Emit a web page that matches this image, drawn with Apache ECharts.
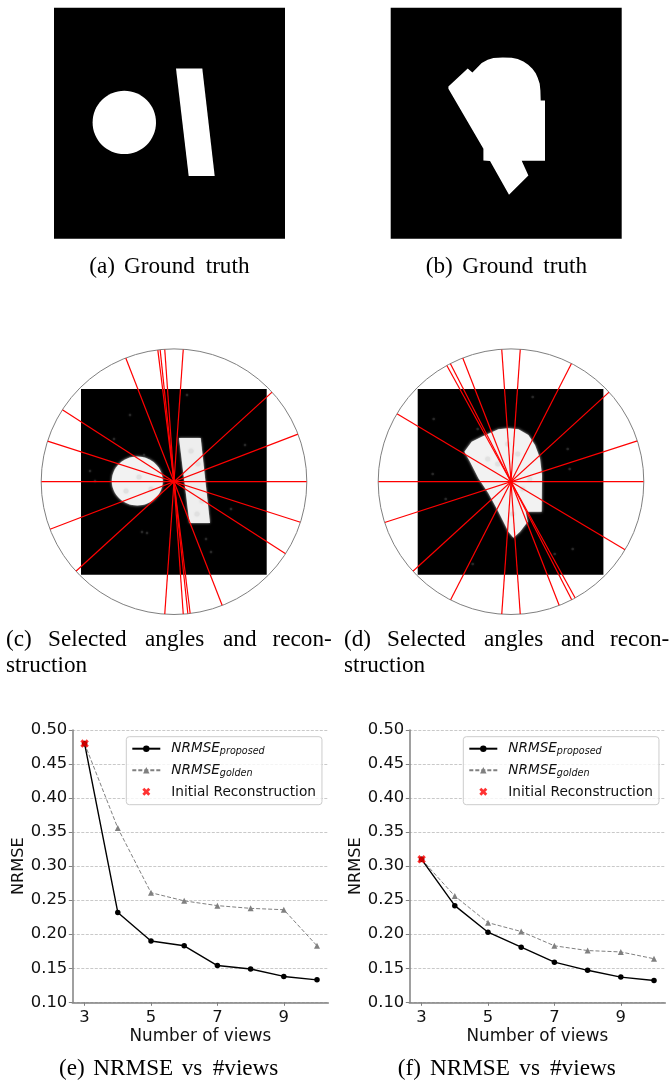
<!DOCTYPE html>
<html><head><meta charset="utf-8">
<style>html,body{margin:0;padding:0;background:#fff}#c{width:669px;height:1082px}</style>
<script src="https://cdn.jsdelivr.net/npm/echarts@6/dist/echarts.min.js"></script>
</head><body><div id="c"></div>
<script>
// Line charts
const views = [3,4,5,6,7,8,9,10];
const proposedE = [0.48,0.232,0.19,0.183,0.154,0.149,0.138,0.133];
const goldenE   = [0.48,0.356,0.261,0.249,0.242,0.238,0.236,0.183];
const proposedF = [0.31,0.242,0.203,0.181,0.159,0.147,0.137,0.132];
const goldenF   = [0.31,0.256,0.217,0.204,0.183,0.176,0.174,0.164];
const initialE = [[3,0.48]];
const initialF = [[3,0.31]];
const xTicks = [3,5,7,9];
// Selected angles (degrees)
const anglesC = [0,21,42.4,86,94,96,97,111.3,147.2,162.2];
const anglesD = [0,17.9,42.4,62.9,86,94,111.3,117.2,118.9,149.2];
const polarLabels = [0,45,90,135,180];
// Ground truth shapes, in image pixels
const truthCircleA = [70.3,114.7,31.7];
const truthBarA = [[122,60.7],[148.3,60.7],[160.7,168.3],[134.7,168.3]];
const truthShapeB = [[57.7,78.7],[77,60.7],[81.7,64.7],[91,55.3],[97,52],[102.7,50.3],[112,49.7],[121,50],[127,51.3],[132.7,53.7],[137.5,57],[141.7,61],[145,65.5],[147,70],[149,76],[149.7,82.7],[150,92.7],[154.3,92.7],[154.3,153],[131,153],[137.7,167.7],[118.3,187],[99.3,153.3],[92.7,152.7],[92.7,141],[57.7,81]];
// Reconstructions, in image pixels
const reconCircleC = [56.3,92,25.5,24.5];
const reconBarC = [[98,49],[119.7,49],[129,134],[108.5,134]];
const reconShapeD = [[46.7,62.7],[54,52.7],[64,47.7],[74,43.3],[80.7,40.3],[90.7,39.3],[100.7,40.3],[110.7,46],[117.3,56],[122.3,69.3],[124.3,86],[124,122.7],[108,122.7],[110,132.7],[102.3,142.7],[95.7,148.7],[90.7,142.7],[80.7,122.7],[70.7,104.3],[60.7,89.3],[52.3,72.7]];
// Faint reconstruction artefacts, in image pixels
const specksC = [[49,26],[63,66],[9,82],[66,144],[61,143],[130,163],[164,56],[106,6],[150,120],[33,50],[125,150],[14,92]];
const mottleC = [[110,62],[117,75],[121,112],[116,125],[58,88],[45,102],[70,100]];
const specksD = [[15,85],[28,110],[16,30],[115,8],[150,60],[152,80],[137,165],[155,160],[55,175],[60,40]];
const mottleD = [[90,55],[80,75],[100,65],[105,100],[70,70],[95,125],[112,90]];

const TICK='#111', SPINE='#808080';
const FONT='"DejaVu Sans"', SERIF='"Liberation Serif"';
const X_SHAPE='path://M-1,-2 L0,-1 L1,-2 L2,-1 L1,0 L2,1 L1,2 L0,1 L-1,2 L-2,1 L-1,0 L-2,-1 Z';

function polyItem(pts,fill,blur){return function(p,api){return {type:'polygon',shape:{points:pts.map(q=>api.coord(q))},
  style:{fill:fill,shadowBlur:blur||0,shadowColor:blur?'#ccc':'transparent'}};};}
function ellipseItem(e,fill,blur){return function(p,api){const c=api.coord([e[0],e[1]]);const s=api.size([1,1]);
  const rx=e[2]*s[0],ry=(e[3]||e[2])*s[1];
  return {type:'ellipse',shape:{cx:c[0],cy:c[1],rx:rx,ry:ry},style:{fill:fill,shadowBlur:blur||0,shadowColor:blur?'#ccc':'transparent'}};};}
function custom(idx,render){return {type:'custom',coordinateSystem:'cartesian2d',xAxisIndex:idx,yAxisIndex:idx,data:[[0,0]],renderItem:render,silent:true,z:1,clip:true};}
function dots(idx,data,color,size){return {type:'scatter',xAxisIndex:idx,yAxisIndex:idx,data:data,symbolSize:size,silent:true,z:2,
  itemStyle:{color:color,shadowBlur:2,shadowColor:color}};}

const imgGrids=[
 {left:54,top:7.7,width:231,height:231,span:231},
 {left:390.7,top:7.7,width:231,height:231,span:231},
 {left:81,top:389,width:185.7,height:185.7,span:185.7},
 {left:417.7,top:389,width:185.7,height:185.7,span:185.7}];
const plotGrids=[
 {left:72.3,top:730,width:256,height:272.3},
 {left:409.3,top:730,width:256,height:272.3}];

const grid=[],xAxis=[],yAxis=[];
imgGrids.forEach(g=>{
  grid.push({left:g.left,top:g.top,width:g.width,height:g.height,show:true,backgroundColor:'#000',borderWidth:0});
  xAxis.push({type:'value',gridIndex:grid.length-1,min:0,max:g.span,show:false});
  yAxis.push({type:'value',gridIndex:grid.length-1,min:0,max:g.span,inverse:true,show:false});
});
plotGrids.forEach(g=>{
  grid.push({left:g.left,top:g.top,width:g.width,height:g.height,show:false});
  const gi=grid.length-1;
  const line={show:true,onZero:false,lineStyle:{color:SPINE,width:1.5}};
  xAxis.push({type:'value',gridIndex:gi,min:2.63,max:10.34,axisLine:line,splitLine:{show:false},
    axisTick:{show:true,length:3.5,customValues:xTicks,lineStyle:{color:SPINE,width:1}},
    axisLabel:{customValues:xTicks,color:TICK,fontFamily:FONT,fontSize:16.4,margin:7,showMinLabel:true,showMaxLabel:true},
    name:'Number of views',nameLocation:'middle',nameGap:26,nameTextStyle:{color:TICK,fontFamily:FONT,fontSize:16.8}});
  yAxis.push({type:'value',gridIndex:gi,min:0.1,max:0.5,interval:0.05,axisLine:line,
    splitLine:{show:true,lineStyle:{color:'#bbb',type:[3,1.5],width:0.8}},
    axisTick:{show:true,length:3.5,lineStyle:{color:SPINE,width:1}},
    axisLabel:{color:TICK,fontFamily:FONT,fontSize:16.4,margin:5,formatter:v=>v.toFixed(2)},
    name:'NRMSE',nameLocation:'middle',nameGap:44,nameTextStyle:{color:TICK,fontFamily:FONT,fontSize:16.2}});
});

const series=[
 custom(0,ellipseItem(truthCircleA,'#fff')),
 custom(0,polyItem(truthBarA,'#fff')),
 custom(1,polyItem(truthShapeB,'#fff')),
 custom(2,ellipseItem(reconCircleC,'#f2f2f2',3)),
 custom(2,polyItem(reconBarC,'#eeeeee',2.5)),
 custom(3,polyItem(reconShapeD,'#f2f2f2',3)),
 dots(2,specksC,'#2e2e2e',2.5),
 dots(2,mottleC,'#dedede',5),
 dots(3,specksD,'#2e2e2e',2.5),
 dots(3,mottleD,'#e0e0e0',5)
];
function addAngles(list,pi){list.forEach(a=>{series.push({type:'line',coordinateSystem:'polar',polarIndex:pi,
  data:[[1,a],[1,a+180]],symbol:'none',silent:true,z:5,lineStyle:{color:'#ff0000',width:1.2},clip:false});});
  series.push({type:'scatter',coordinateSystem:'polar',polarIndex:pi,data:polarLabels.map(v=>[1.143,v]),symbolSize:1,silent:true,z:6,
    itemStyle:{color:'transparent'},label:{show:true,position:'inside',align:'center',verticalAlign:'middle',color:TICK,fontFamily:FONT,fontSize:13,
    formatter:p=>String(p.value[1])}});}
addAngles(anglesC,0);addAngles(anglesD,1);

const N1='NRMSE_proposed',N2='NRMSE_golden',N3='Initial Reconstruction';
function addPlot(i,prop,gold,init){
  const gi=4+i;
  const pairs=a=>views.map((v,k)=>[v,a[k]]);
  series.push({type:'line',name:N2,xAxisIndex:gi,yAxisIndex:gi,data:pairs(gold),symbol:'triangle',symbolSize:6,
    itemStyle:{color:'#808080'},lineStyle:{color:'#808080',width:1,type:[4,2]},z:3,clip:false});
  series.push({type:'line',name:N1,xAxisIndex:gi,yAxisIndex:gi,data:pairs(prop),symbol:'circle',symbolSize:5.5,
    itemStyle:{color:'#000'},lineStyle:{color:'#000',width:1.4},z:4,clip:false});
  series.push({type:'scatter',name:N3,xAxisIndex:gi,yAxisIndex:gi,data:init,symbol:X_SHAPE,symbolSize:8.5,symbolKeepAspect:true,
    itemStyle:{color:'#ff0000'},z:6,clip:false});
}
addPlot(0,proposedE,goldenE,initialE);
addPlot(1,proposedF,goldenF,initialF);

function legendAt(left){return {left:left,top:736.7,orient:'vertical',data:[N1,N2,N3],itemWidth:28,itemHeight:8,itemGap:5.5,
  padding:[4,6,5,5],backgroundColor:'rgba(255,255,255,0.8)',borderColor:'#ccc',borderWidth:1,borderRadius:3,z:10,selectedMode:false,
  textStyle:{color:TICK,fontFamily:FONT,fontSize:13.7,padding:[0,0,0,6],
    rich:{m:{fontFamily:FONT,fontStyle:'italic',fontSize:13.6,color:TICK,lineHeight:16},
          s:{fontFamily:FONT,fontStyle:'italic',fontSize:9.6,color:TICK,padding:[6,0,0,0],lineHeight:16},
          t:{fontFamily:FONT,fontSize:13.7,color:TICK,lineHeight:16,padding:[2,0,0,0]}}},
  formatter:n=>n===N1?'{m|NRMSE}{s|proposed}':n===N2?'{m|NRMSE}{s|golden}':'{t|'+n+'}'};}

const polar=[{center:[174,481.7],radius:132.8},{center:[511,481.7],radius:132.8}];
const angleAxis=polar.map((_,i)=>({polarIndex:i,type:'value',min:0,max:360,interval:45,startAngle:0,clockwise:false,
  axisLine:{lineStyle:{color:'#808080',width:1}},axisTick:{show:false},splitLine:{show:false},axisLabel:{show:false}}));
const radiusAxis=polar.map((_,i)=>({polarIndex:i,type:'value',min:0,max:1,show:false,axisLine:{show:false},axisTick:{show:false},axisLabel:{show:false},splitLine:{show:false}}));

function cap(text,x,y){return {type:'text',x:x,y:y,z:20,style:{text:text,font:'23.2px '+SERIF,fill:'#000',textAlign:'left',textVerticalAlign:'middle'}};}
function capRow(words,xs,y){return words.map((w,i)=>cap(w,xs[i],y));}
const graphic=[].concat(
 capRow(['(a)','Ground','truth'],[89.3,124,205.7],267),
 capRow(['(b)','Ground','truth'],[425.7,462.3,543.3],267),
 capRow(['(c)','Selected','angles','and','recon-'],[6,48,145,223,272.5],640),
 capRow(['struction'],[6],666),
 capRow(['(d)','Selected','angles','and','recon-'],[344,387,484,561,610],640),
 capRow(['struction'],[344],666),
 capRow(['(e)','NRMSE','vs','#views'],[59,93.3,181.7,212.7],1069),
 capRow(['(f)','NRMSE','vs','#views'],[397.7,430,519.3,550],1069)
);

const chart=echarts.init(document.getElementById('c'),null,{renderer:'canvas'});
chart.setOption({animation:false,backgroundColor:'#fff',grid,xAxis,yAxis,polar,angleAxis,radiusAxis,series,
  legend:[legendAt(126.3),legendAt(463.3)],graphic:{elements:graphic}});
</script></body></html>
